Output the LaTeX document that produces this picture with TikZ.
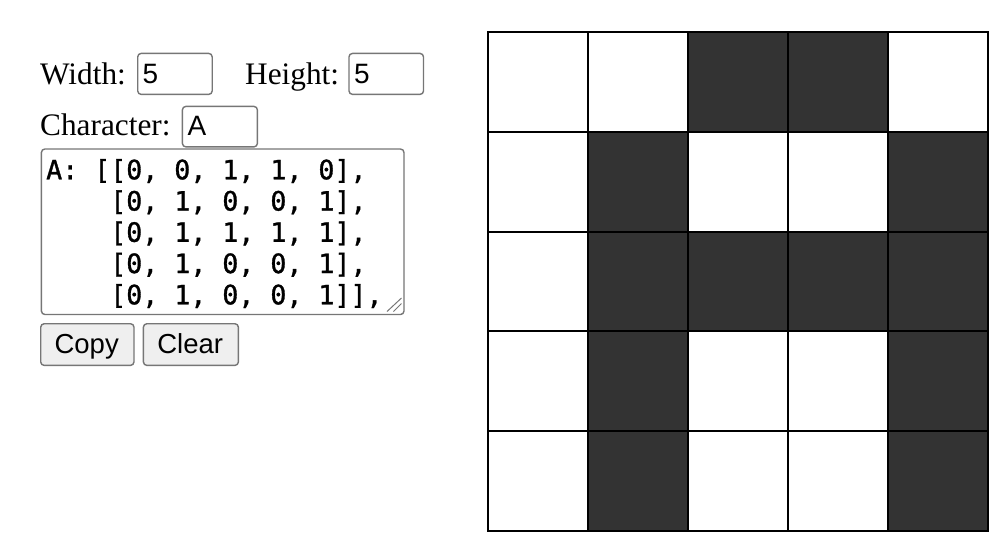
\documentclass[tikz,border=0pt]{standalone}
\usepackage{fontspec}
\setmainfont{Liberation Serif}
\setsansfont{Liberation Sans}
\setmonofont[FakeBold=1.2]{DejaVu Sans Mono}
\definecolor{cellon}{HTML}{333333}
\definecolor{ctrlborder}{HTML}{767676}
\definecolor{btnfill}{HTML}{EFEFEF}
\begin{document}
\begin{tikzpicture}[x=1pt,y=-1pt,
  lbl/.style={inner sep=0pt,anchor=base west,font=\fontsize{31.3}{31.3}\selectfont},
  inbox/.style={draw=ctrlborder,line width=1.4pt,rounded corners=3.5pt,fill=white,
     anchor=north west,inner sep=0pt},
  intext/.style={inner sep=0pt,anchor=base west,font=\sffamily\fontsize{28}{28}\selectfont},
  codeline/.style={inner sep=0pt,anchor=base west,font=\ttfamily\fontsize{26.6}{26.6}\selectfont},
  btn/.style={draw=ctrlborder,line width=1.4pt,rounded corners=3.5pt,fill=btnfill,
     anchor=north west,inner sep=0pt},
  btntext/.style={inner sep=0pt,anchor=base,font=\sffamily\fontsize{27.5}{27.5}\selectfont},
]
\useasboundingbox (0,0) rectangle (1006,550);

% labels
\node[lbl] (lwidth) at (40,84) {Width:};
\node[lbl] (lheight) at (245,84) {Height:};
\node[lbl] (lchar) at (40,135) {Character:};

% input boxes
\node[inbox,minimum width=74.5pt,minimum height=41pt] (wbox) at (137,52.7) {};
\node[intext] (wval) at (142.5,83) {5};
\node[inbox,minimum width=74.5pt,minimum height=41pt] (hbox) at (348.3,52.7) {};
\node[intext] (hval) at (353.8,83) {5};
\node[inbox,minimum width=75pt,minimum height=40.5pt] (cbox) at (181.7,105.7) {};
\node[intext] (cval) at (187.5,135) {A};

% textarea
\node[inbox,minimum width=362.6pt,minimum height=165.5pt] (tarea) at (40.7,148.3) {};
\node[codeline] (c1) at (46,179.3) {A: [[0, 0, 1, 1, 0],};
\node[codeline] (c2) at (46,210.55) {\phantom{A: [}[0, 1, 0, 0, 1],};
\node[codeline] (c3) at (46,241.8) {\phantom{A: [}[0, 1, 1, 1, 1],};
\node[codeline] (c4) at (46,273.05) {\phantom{A: [}[0, 1, 0, 0, 1],};
\node[codeline] (c5) at (46,304.3) {\phantom{A: [}[0, 1, 0, 0, 1]],};
\draw[ctrlborder,line width=1pt] (387,311.5) -- (401.5,298);
\draw[ctrlborder,line width=1pt] (393.5,311.5) -- (401.5,303.5);

% buttons
\node[btn,minimum width=93.3pt,minimum height=41.7pt] (bcopy) at (40,323) {};
\node[btntext] (tcopy) at (86.7,353) {Copy};
\node[btn,minimum width=95pt,minimum height=41.7pt] (bclear) at (142.7,323) {};
\node[btntext] (tclear) at (190.2,353) {Clear};

% grid cells
\foreach \r/\c in {0/2,0/3,1/1,1/4,2/1,2/2,2/3,2/4,3/1,3/4,4/1,4/4}{
  \fill[cellon] ({488+\c*100},{32+\r*99.8}) rectangle ++(100,99.8);
}
\foreach \i in {1,2,3,4}{
  \draw[line width=2pt] ({488+\i*100},32) -- ({488+\i*100},531);
  \draw[line width=2pt] (488,{32+\i*99.8}) -- (988,{32+\i*99.8});
}
\draw[line width=1.3pt] (488,32) rectangle (988,531);
\end{tikzpicture}
\end{document}
